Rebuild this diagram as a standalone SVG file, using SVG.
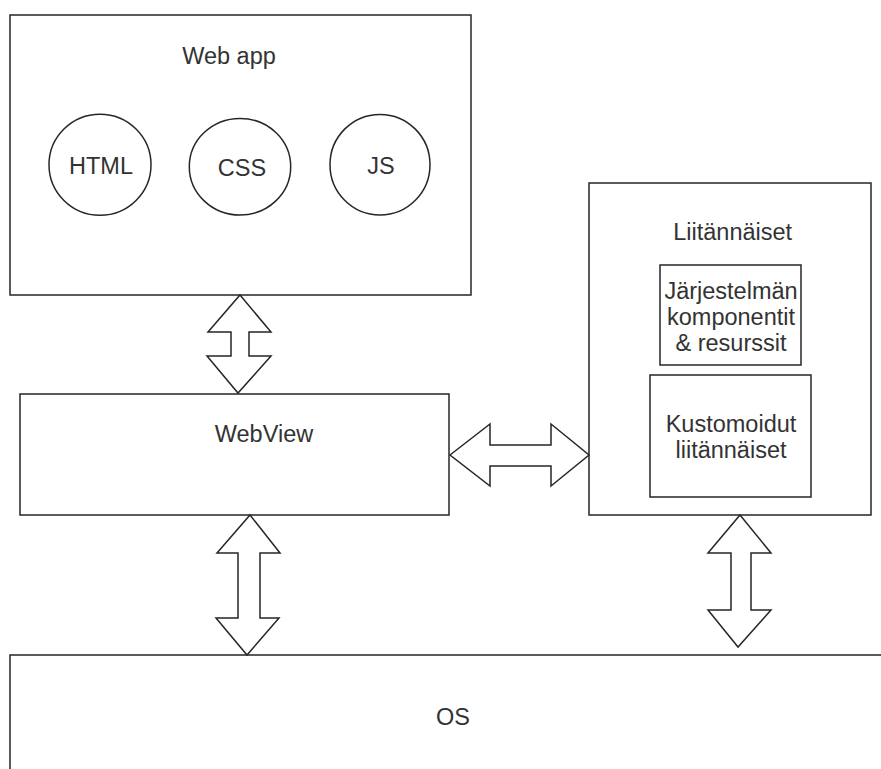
<svg xmlns="http://www.w3.org/2000/svg" width="881" height="769" viewBox="0 0 881 769">
  <style>
    .box { fill: #ffffff; stroke: #262626; stroke-width: 1.5; }
    .arrow { fill: #ffffff; stroke: #262626; stroke-width: 1.5; stroke-linejoin: miter; }
    .label { font-family: "Liberation Sans", Arial, sans-serif; font-size: 23.5px; fill: #333333; text-anchor: middle; }
  </style>
  <rect width="881" height="769" fill="#ffffff"/>

  <!-- Web application with its three building blocks -->
  <g id="webapp">
    <rect class="box" x="10" y="15" width="461" height="280"/>
    <text class="label" x="229" y="64">Web app</text>
  </g>
  <g id="html">
    <ellipse class="box" cx="100" cy="164.7" rx="51" ry="50.5"/>
    <text class="label" x="101" y="174">HTML</text>
  </g>
  <g id="css">
    <ellipse class="box" cx="240" cy="166.7" rx="50.7" ry="48.3"/>
    <text class="label" x="242" y="175.5">CSS</text>
  </g>
  <g id="js">
    <ellipse class="box" cx="380" cy="164.7" rx="50" ry="50.3"/>
    <text class="label" x="381" y="174">JS</text>
  </g>

  <!-- WebView -->
  <g id="webview">
    <rect class="box" x="20" y="394" width="429" height="121"/>
    <text class="label" x="264" y="442">WebView</text>
  </g>

  <!-- Plugins -->
  <g id="plugins">
    <rect class="box" x="589" y="183" width="282" height="332"/>
    <text class="label" x="732.7" y="240">Liitännäiset</text>
  </g>
  <g id="system-components">
    <rect class="box" x="660" y="265" width="141" height="100"/>
    <text class="label" x="731" y="299">Järjestelmän</text>
    <text class="label" x="731" y="325">komponentit</text>
    <text class="label" x="731" y="351">&amp; resurssit</text>
  </g>
  <g id="custom-plugins">
    <rect class="box" x="650" y="375" width="161" height="122"/>
    <text class="label" x="731" y="432">Kustomoidut</text>
    <text class="label" x="731" y="458">liitännäiset</text>
  </g>

  <!-- Operating system (runs past the right and bottom edges) -->
  <g id="os">
    <rect class="box" x="10" y="655" width="900" height="200"/>
    <text class="label" x="453" y="725">OS</text>
  </g>

  <!-- Double-headed block arrows between layers -->
  <g id="connectors">
    <polygon class="arrow" points="240,295 271,332 249,332 249,356 271,356 238,393 207,356 231,356 231,332 208,332"/>
    <polygon class="arrow" points="450,455 490,424 490,445 551,445 551,424 589,455 551,486 551,466 490,466 490,486"/>
    <polygon class="arrow" points="250,515 280,553 260,553 260,618 279,618 247,655 216,618 238,618 238,553 217,553"/>
    <polygon class="arrow" points="740,515 771,553 751,553 751,610 771,610 738,647 708,610 731,610 731,553 708,553"/>
  </g>
</svg>
